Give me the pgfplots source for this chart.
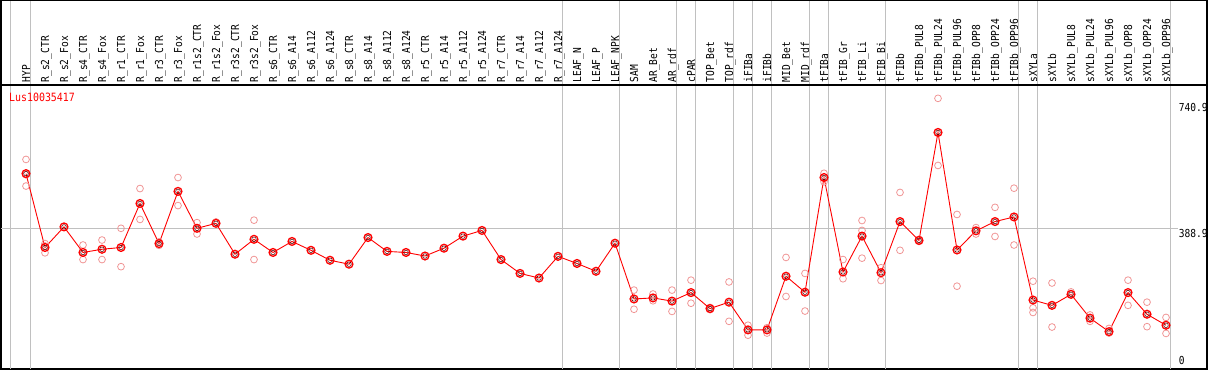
\documentclass[border=0pt]{standalone}
\usepackage{fontspec}
\setmonofont{DejaVu Sans Mono}
\newfontfamily\labfont[FakeStretch=0.87]{DejaVu Sans Mono}
\usepackage{pgfplots}
\pgfplotsset{compat=1.18}
\usepackage{pgfplotstable}
\definecolor{pale}{RGB}{240,150,150}
\definecolor{gridg}{RGB}{192,192,192}
\pgfplotstableread{
i v
0 542
1 334
2 392
3 320
4 329
5 334
6 458
7 345
8 492
9 388
10 402
11 315
12 357
13 320
14 351
15 326
16 298
17 287
18 362
19 323
20 320
21 310
22 332
23 366
24 382
25 300
26 261
27 248
28 309
29 289
30 267
31 346
32 189
33 192
34 183
35 207
36 162
37 180
38 102
39 102
40 253
41 208
42 531
43 265
44 366
45 263
46 407
47 354
48 658
49 327
50 381
51 407
52 420
53 186
54 171
55 202
56 135
57 97
58 207
59 146
60 115
}\maindata
\pgfplotstableread{
i v
0 582
0 507
0 539
1 345
1 319
1 338
3 341
3 300
4 355
4 300
5 388
5 280
6 500
6 413
7 350
7 340
8 531
8 452
9 404
9 372
10 406
12 411
12 300
32 214
32 160
33 203
33 184
34 214
34 154
35 242
35 177
36 165
36 159
37 237
37 126
38 115
38 87
39 108
39 93
40 306
40 196
41 261
41 155
42 543
42 519
43 300
43 246
44 410
44 382
44 304
45 277
45 241
46 489
46 326
47 357
47 351
48 754
48 565
49 427
49 225
50 390
50 372
51 447
51 365
52 501
52 341
53 239
53 164
53 151
54 234
54 110
55 209
56 144
56 126
57 106
57 93
58 242
58 171
59 180
59 111
60 137
60 92
}\paledata
\begin{document}
\begin{tikzpicture}
\begin{axis}[
  name=ax,
  scale only axis,
  width=1206pt, height=284pt,
  xmin=-1.3158, xmax=62.158,
  ymin=-8.2, ymax=791.6,
  clip=false,
  axis line style={black, line width=1.2pt},
  xtick={0,...,60},
  xticklabel pos=upper,
  major tick length=0pt,
  xticklabels={HYP,R\_s2\_CTR,R\_s2\_Fox,R\_s4\_CTR,R\_s4\_Fox,R\_r1\_CTR,R\_r1\_Fox,R\_r3\_CTR,R\_r3\_Fox,R\_r1s2\_CTR,R\_r1s2\_Fox,R\_r3s2\_CTR,R\_r3s2\_Fox,R\_s6\_CTR,R\_s6\_A14,R\_s6\_A112,R\_s6\_A124,R\_s8\_CTR,R\_s8\_A14,R\_s8\_A112,R\_s8\_A124,R\_r5\_CTR,R\_r5\_A14,R\_r5\_A112,R\_r5\_A124,R\_r7\_CTR,R\_r7\_A14,R\_r7\_A112,R\_r7\_A124,LEAF\_N,LEAF\_P,LEAF\_NPK,SAM,AR\_Bet,AR\_rdf,cPAR,TOP\_Bet,TOP\_rdf,iFIBa,iFIBb,MID\_Bet,MID\_rdf,tFIBa,tFIB\_Gr,tFIB\_Li,tFIB\_Bi,tFIBb,tFIBb\_PUL8,tFIBb\_PUL24,tFIBb\_PUL96,tFIBb\_OPP8,tFIBb\_OPP24,tFIBb\_OPP96,sXYLa,sXYLb,sXYLb\_PUL8,sXYLb\_PUL24,sXYLb\_PUL96,sXYLb\_OPP8,sXYLb\_OPP24,sXYLb\_OPP96},
  xticklabel style={xshift=4.2pt, yshift=2.5pt, rotate=90, anchor=base west, inner sep=0pt, font=\labfont\fontsize{11}{12}\selectfont},
  ytick=\empty,
]
% grey separators
\foreach \gx in {-0.8,0.25,28.25,31.25,34.25,35.25,37.25,38.25,39.25,41.25,42.25,45.25,52.25,53.25,60.25}{
  \edef\temp{\noexpand\draw[gridg, line width=0.9pt] (axis cs:\gx,-8.2) -- (axis cs:\gx,1031);}
  \temp
}
\draw[gridg, line width=0.9pt] (axis cs:-1.3158,388.9) -- (axis cs:60.63,388.9);
\draw[black, line width=1.2pt] (axis cs:-1.3158,791.6) rectangle (axis cs:62.158,1031);
\addplot[only marks, mark=o, mark size=3.4pt, mark options={draw=pale, line width=0.8pt}] table[x=i,y=v] {\paledata};
\addplot[red, line width=0.9pt, mark=o, mark size=3.9pt, mark options={draw=red, line width=1.3pt}] table[x=i,y=v] {\maindata};
\addplot[only marks, mark=o, mark size=2.3pt, mark options={draw=black!70!red, line width=0.5pt}] table[x=i,y=v] {\maindata};
\node[anchor=north west, inner sep=0pt, font=\labfont\fontsize{11}{12}\selectfont] at (axis cs:60.66,740.9) {740.9};
\node[anchor=north west, inner sep=0pt, font=\labfont\fontsize{11}{12}\selectfont] at ([yshift=-1pt]axis cs:60.66,388.9) {388.9};
\node[anchor=south west, inner sep=0pt, font=\labfont\fontsize{11}{12}\selectfont] at ([yshift=1pt]axis cs:60.66,0) {0};
\end{axis}
\node[anchor=west, inner sep=0pt, text=red, font=\labfont\fontsize{11.4}{12}\selectfont] at ([xshift=8pt,yshift=-12pt]ax.north west) {Lus10035417};
\pgfresetboundingbox
\path ([xshift=-1pt,yshift=-1pt]ax.south west) rectangle ([xshift=2pt,yshift=85pt]ax.north east);
\end{tikzpicture}
\end{document}
